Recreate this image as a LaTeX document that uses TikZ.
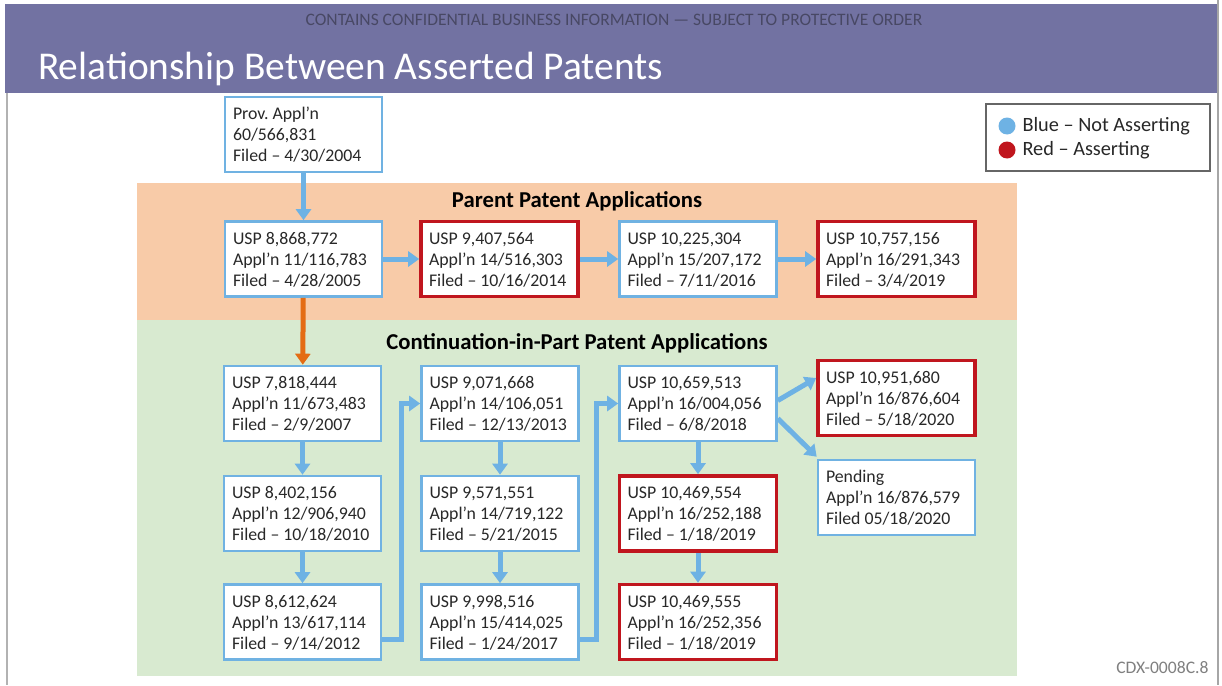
\documentclass[tikz,border=0pt]{standalone}
\usepackage{fontspec}
\setmainfont{Carlito}
\usetikzlibrary{arrows.meta}
\frenchspacing
\definecolor{hpurple}{RGB}{114,114,162}
\definecolor{subtxt}{RGB}{72,72,100}
\definecolor{bblue}{RGB}{112,178,226}
\definecolor{ablue}{RGB}{110,178,228}
\definecolor{rred}{RGB}{192,22,30}
\definecolor{aorange}{RGB}{228,108,20}
\definecolor{peach}{RGB}{248,203,168}
\definecolor{lgreen}{RGB}{216,234,208}
\definecolor{txt}{RGB}{40,40,40}
\newcommand\bxl[3]{\raisebox{-2pt}[\height][\depth]{\makebox[141pt][l]{\begin{tabular}{@{}l@{}}#1\\#2\\#3\end{tabular}}}}
\tikzset{
  pbox/.style={draw=bblue, line width=2.6pt, fill=white, minimum height=75pt,
    minimum width=157pt, inner xsep=8pt, inner ysep=0pt, text=txt,
    font=\fontsize{17.8}{21}\selectfont},
  rbox/.style={pbox, draw=rred, line width=3.6pt},
  arr/.style={draw=ablue, line width=5pt, -{Triangle[length=11pt,width=15pt]}},
  oarr/.style={arr, draw=aorange, -{Triangle[length=11pt,width=15pt]}},
  sect/.style={font=\fontsize{22.7}{26}\bfseries\selectfont, text=black},
  legtxt/.style={anchor=west, font=\fontsize{20.3}{23}\selectfont, text=txt}
}
\begin{document}
\begin{tikzpicture}[x=1pt,y=-1pt]
\useasboundingbox (0,0) rectangle (1222,685);
\fill[white] (0,0) rectangle (1222,685);
% frame
\fill[hpurple] (5,4) rectangle (1217,93);
\draw[gray!60, line width=2pt] (7,93) -- (7,685);
\draw[gray!70, line width=2pt] (1218,0) -- (1218,685);
\node[font=\fontsize{17.5}{19}\selectfont, text=subtxt] (conf) at (614,20) {CONTAINS CONFIDENTIAL BUSINESS INFORMATION — SUBJECT TO PROTECTIVE ORDER};
\node[anchor=base west, inner sep=0pt, font=\fontsize{39.4}{42}\selectfont, text=white] (title) at (38,79) {Relationship Between Asserted Patents};
% regions
\fill[peach] (137,183) rectangle (1017,320);
\fill[lgreen] (137,320) rectangle (1017,676);
\node[sect] (ps) at (577,201) {Parent Patent Applications};
\node[sect] (cs) at (577,343) {Continuation-in-Part Patent Applications};
% legend
\draw[gray!80!black, line width=2pt, fill=white] (986,104) rectangle (1210,171);
\fill[ablue] (1007,126) circle (8.5);
\fill[rred] (1007,150) circle (8.5);
\node[legtxt] (lb) at (1019,126) {Blue – Not Asserting};
\node[legtxt] (lr) at (1019,150) {Red – Asserting};
\node[anchor=east, font=\fontsize{17.6}{19}\selectfont, text=gray] (cdx) at (1212,668) {CDX-0008C.8};
% boxes
\node[pbox] (prov) at (303.5,134.5) {\bxl{Prov. Appl’n}{60/566,831}{Filed – 4/30/2004}};
\node[pbox] (p1) at (303.5,259) {\bxl{USP 8,868,772}{Appl’n 11/116,783}{Filed – 4/28/2005}};
\node[rbox] (p2) at (499.5,259) {\bxl{USP 9,407,564}{Appl’n 14/516,303}{Filed – 10/16/2014}};
\node[pbox] (p3) at (698,259) {\bxl{USP 10,225,304}{Appl’n 15/207,172}{Filed – 7/11/2016}};
\node[rbox] (p4) at (896.5,259) {\bxl{USP 10,757,156}{Appl’n 16/291,343}{Filed – 3/4/2019}};
\node[pbox] (c11) at (302.5,403.5) {\bxl{USP 7,818,444}{Appl’n 11/673,483}{Filed – 2/9/2007}};
\node[pbox] (c12) at (302.5,513.5) {\bxl{USP 8,402,156}{Appl’n 12/906,940}{Filed – 10/18/2010}};
\node[pbox] (c13) at (302.5,622) {\bxl{USP 8,612,624}{Appl’n 13/617,114}{Filed – 9/14/2012}};
\node[pbox] (c21) at (500,403.5) {\bxl{USP 9,071,668}{Appl’n 14/106,051}{Filed – 12/13/2013}};
\node[pbox] (c22) at (500,513.5) {\bxl{USP 9,571,551}{Appl’n 14/719,122}{Filed – 5/21/2015}};
\node[pbox] (c23) at (500,622) {\bxl{USP 9,998,516}{Appl’n 15/414,025}{Filed – 1/24/2017}};
\node[pbox] (c31) at (698,403.5) {\bxl{USP 10,659,513}{Appl’n 16/004,056}{Filed – 6/8/2018}};
\node[rbox] (c32) at (698,513.5) {\bxl{USP 10,469,554}{Appl’n 16/252,188}{Filed – 1/18/2019}};
\node[rbox] (c33) at (698,622) {\bxl{USP 10,469,555}{Appl’n 16/252,356}{Filed – 1/18/2019}};
\node[rbox] (c41) at (896.5,398) {\bxl{USP 10,951,680}{Appl’n 16/876,604}{Filed – 5/18/2020}};
\node[pbox] (c42) at (896.5,497.5) {\bxl{Pending}{Appl’n 16/876,579}{Filed 05/18/2020}};
% arrows
\draw[arr] (prov) -- (p1);
\draw[arr] (p1) -- (p2);
\draw[arr] (p2) -- (p3);
\draw[arr] (p3) -- (p4);
\draw[oarr] (p1) -- (c11);
\draw[arr] (c11) -- (c12);
\draw[arr] (c12) -- (c13);
\draw[arr] (c21) -- (c22);
\draw[arr] (c22) -- (c23);
\draw[arr] (c31) -- (c32);
\draw[arr] (c32) -- (c33);
\draw[arr] ([yshift=-17pt]c13.east) -- ++(19,0) |- (c21.west);
\draw[arr] ([yshift=-17pt]c23.east) -- ++(17,0) |- (c31.west);
\draw[arr] ([yshift=3pt]c31.east) -- ([yshift=20pt]c41.west);
\draw[arr] ([yshift=-15pt]c31.east) -- ([yshift=2pt]c42.north west);
\end{tikzpicture}
\end{document}
